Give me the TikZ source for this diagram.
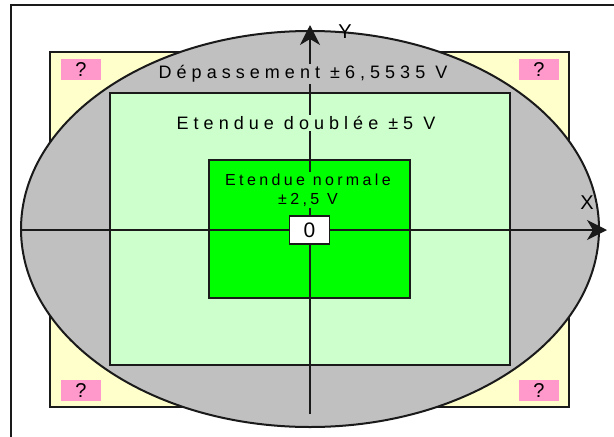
\documentclass[tikz,border=0pt]{standalone}
\usepackage{fontspec}
\setmainfont{Liberation Sans}
\newfontfamily\spacedfont[LetterSpace=28]{Liberation Sans}
\newfontfamily\innerfont[LetterSpace=21]{Liberation Sans}
\usetikzlibrary{arrows.meta}
\definecolor{cream}{HTML}{FFFFCC}
\definecolor{overgray}{HTML}{C0C0C0}
\definecolor{palegreen}{HTML}{CCFFCC}
\definecolor{brightgreen}{HTML}{00FF00}
\definecolor{pinkq}{HTML}{FF99CC}
\definecolor{ink}{HTML}{1A1A1A}

\begin{document}
\begin{tikzpicture}[x=1pt, y=-1pt,
    zone/.style={draw=ink, line width=2pt},
    axis/.style={draw=ink, line width=1.5pt, -{Stealth[length=20pt, width=20pt, inset=6pt]}},
    bandlabel/.style={font=\spacedfont\fontsize{18}{21}\selectfont, align=center, inner sep=1.5pt},
    unknown/.style={fill=pinkq, minimum width=40pt, minimum height=21pt, inner sep=0pt,
      font=\fontsize{20}{20}\selectfont},
    axlabel/.style={font=\fontsize{20}{20}\selectfont, inner sep=0pt},
  ]
    \useasboundingbox (0,0) rectangle (614,437);
    \fill[white] (0,0) rectangle (614,437);
    % outer frame
    \draw[ink, line width=2pt] (11,5) rectangle (640,460);
    % ranges
    \draw[zone, fill=cream] (50,52) rectangle (569,407);
    \draw[zone, fill=overgray] (310,229) ellipse [x radius=289pt, y radius=198pt];
    \draw[zone, fill=palegreen] (110,93) rectangle (510,365);
    \draw[zone, fill=brightgreen] (209,160) rectangle (410,298);
    % unknown corners
    \node[unknown] (qtl) at (81,69.5)  {?};
    \node[unknown] (qtr) at (539,69.5) {?};
    \node[unknown] (qbl) at (81,390.5) {?};
    \node[unknown] (qbr) at (539,390.5) {?};
    % axes
    \coordinate (xstart) at (21,230);
    \coordinate (xend)   at (607,230);
    \coordinate (ystart) at (310,414);
    \coordinate (yend)   at (310,25);
    \draw[axis] (xstart) -- (xend);
    \draw[axis] (ystart) -- (yend);
    \node[axlabel] (xlab) at (587,203) {X};
    \node[axlabel] (ylab) at (345,32)  {Y};
    % labels
    \node[bandlabel, fill=overgray]    (over)   at (303,74)  {Dépassement ±6,5535 V};
    \node[bandlabel, fill=palegreen]   (double) at (306,123) {Etendue doublée ±5 V};
    \node[bandlabel, fill=brightgreen, font=\innerfont\fontsize{16}{19}\selectfont]
      (normal) at (308,190) {Etendue normale\\±2,5 V};
    \node[draw=ink, line width=1.5pt, fill=white, minimum width=40pt, minimum height=28pt,
      inner sep=0pt, font=\fontsize{21}{21}\selectfont] (zero) at (309.5,230) {0};
  \end{tikzpicture}
\end{document}
